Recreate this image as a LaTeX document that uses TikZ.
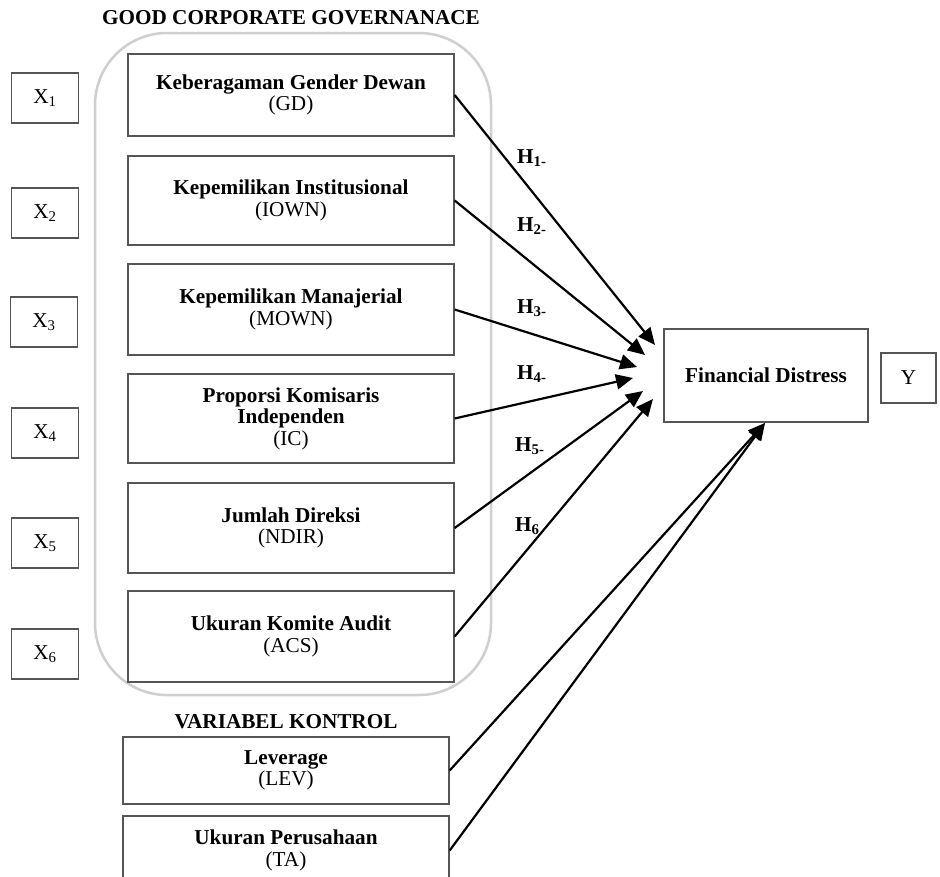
\documentclass[tikz,border=0pt]{standalone}
\usepackage{fontspec}
\setmainfont{Liberation Serif}
\usetikzlibrary{arrows.meta}
\definecolor{boxgray}{HTML}{555555}
\definecolor{groupgray}{HTML}{CFCFCF}
\begin{document}
\begin{tikzpicture}[x=1pt,y=-1pt,
  every node/.style={font=\fontsize{21.2}{21.5}\selectfont, inner sep=0pt},
  xbox/.style={draw=boxgray, line width=1.3pt, minimum width=67pt, minimum height=50pt},
  varbox/.style={draw=boxgray, line width=1.3pt, minimum width=326pt, align=center},
  hyp/.style={font=\fontsize{21.2}{21.5}\selectfont\bfseries, anchor=west},
  arr/.style={line width=2.2pt, -{Triangle[length=17pt,width=15pt]}},
  grp/.style={draw=groupgray, line width=2.5pt, rounded corners=72pt}
]
\path[use as bounding box, clip] (0,0) rectangle (940,876);
\fill[white] (0,0) rectangle (940,876);

% group frame
\draw[grp] (95,33) rectangle (491,695);
\node[font=\fontsize{21.2}{21.5}\selectfont\bfseries] (gcgtitle) at (291,18) {GOOD CORPORATE GOVERNANACE};

% X boxes
\node[xbox] (x1) at (45,98) {X\textsubscript{1}};
\node[xbox] (x2) at (45,213) {X\textsubscript{2}};
\node[xbox] (x3) at (44,322) {X\textsubscript{3}};
\node[xbox] (x4) at (45,433) {X\textsubscript{4}};
\node[xbox] (x5) at (45,543) {X\textsubscript{5}};
\node[xbox] (x6) at (45,654) {X\textsubscript{6}};

% GCG variable boxes
\node[varbox, minimum height=82pt] (gd) at (291,95) {\textbf{Keberagaman Gender Dewan}\\(GD)};
\node[varbox, minimum height=89pt] (iown) at (291,200.5) {\textbf{Kepemilikan Institusional}\\(IOWN)};
\node[varbox, minimum height=91pt] (mown) at (291,309.5) {\textbf{Kepemilikan Manajerial}\\(MOWN)};
\node[varbox, minimum height=89pt] (ic) at (291,418.5) {\textbf{Proporsi Komisaris}\\\textbf{Independen}\\(IC)};
\node[varbox, minimum height=90pt] (ndir) at (291,528) {\textbf{Jumlah Direksi}\\(NDIR)};
\node[varbox, minimum height=91pt] (acs) at (291,636.5) {\textbf{Ukuran Komite Audit}\\(ACS)};

% control variables
\node[font=\fontsize{21.2}{21.5}\selectfont\bfseries] (kontrol) at (286,722) {VARIABEL KONTROL};
\node[varbox, minimum height=67pt] (lev) at (286,770.5) {\textbf{Leverage}\\(LEV)};
\node[varbox, minimum height=69pt] (ta) at (286,850.5) {\textbf{Ukuran Perusahaan}\\(TA)};

% dependent
\node[draw=boxgray, line width=1.3pt, minimum width=204pt, minimum height=93pt, font=\fontsize{21.2}{21.5}\selectfont\bfseries] (fd) at (766,375.5) {Financial Distress};
\node[xbox, minimum width=55pt] (y) at (908.5,378) {Y};

% arrow tips
\coordinate (t1) at (655,345);
\coordinate (t2) at (645,355);
\coordinate (t3) at (637,367);
\coordinate (t4) at (633,378);
\coordinate (t5) at (643,391);
\coordinate (t6) at (653,399);
\coordinate (tc) at (765,423);

\draw[arr] (gd.east) -- (t1);
\draw[arr] (iown.east) -- (t2);
\draw[arr] (mown.east) -- (t3);
\draw[arr] (ic.east) -- (t4);
\draw[arr] (ndir.east) -- (t5);
\draw[arr] (acs.east) -- (t6);
\draw[arr] (lev.east) -- (tc);
\draw[arr] (ta.east) -- (tc);

% hypothesis labels
\node[hyp] (h1) at (517,158) {H\textsubscript{1-}};
\node[hyp] (h2) at (517,226) {H\textsubscript{2-}};
\node[hyp] (h3) at (517,308) {H\textsubscript{3-}};
\node[hyp] (h4) at (517,374) {H\textsubscript{4-}};
\node[hyp] (h5) at (515,446) {H\textsubscript{5-}};
\node[hyp] (h6) at (515,526) {H\textsubscript{6}};
\end{tikzpicture}
\end{document}
